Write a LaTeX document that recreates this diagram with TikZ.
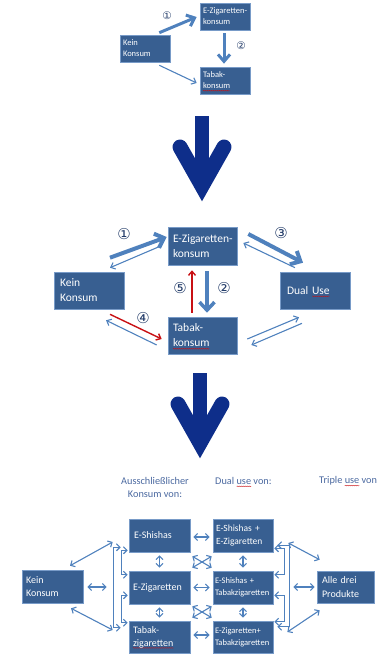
\documentclass[tikz,border=0pt]{standalone}
\usepackage{fontspec}
\setmainfont{Carlito}
\newfontfamily\symf{DejaVu Sans}
\usetikzlibrary{arrows.meta,decorations.pathmorphing}

\definecolor{boxfill}{RGB}{56,95,145}
\definecolor{boxline}{RGB}{120,155,200}
\definecolor{arrowblue}{RGB}{79,129,189}
\definecolor{arrowred}{RGB}{200,16,20}
\definecolor{navyarrow}{RGB}{14,46,138}
\definecolor{numcol}{RGB}{35,60,105}
\definecolor{hdrcol}{RGB}{75,105,160}

\newcommand\fsz[2]{\fontsize{#1}{#2}\selectfont}
% red wavy underline (spell-check mark)
\newcommand\wv[1]{\leavevmode\setbox0=\hbox{#1}\rlap{\tikz[overlay,baseline=0pt]\draw[arrowred, line width=0.35pt, decorate, decoration={snake, amplitude=0.4pt, segment length=2pt}] (0pt,-1.8pt) -- (\the\wd0,-1.8pt);}\box0\relax}

\tikzset{
  box/.style={draw=boxline, line width=0.6pt, fill=boxfill, text=white, align=left, inner ysep=0pt},
  arrthin/.style={draw=arrowblue, line width=1.1pt, -{Straight Barb[length=4pt,width=7pt]}},
  arrthick/.style={draw=arrowblue, line width=4pt, -{Straight Barb[length=8pt,width=15pt]}},
  arrred/.style={draw=arrowred, line width=1.4pt, -{Straight Barb[length=4pt,width=7pt]}},
  arrdbl/.style={draw=arrowblue, line width=1.1pt, {Straight Barb[length=3.5pt,width=7pt]}-{Straight Barb[length=3.5pt,width=7pt]}},
  num/.style={text=numcol, inner sep=0pt},
  hdr/.style={text=hdrcol, inner sep=0pt, font=\fsz{10.3}{13}},
  bigdown/.pic={
    \fill[navyarrow] (-7,0) rectangle (7,62);
    \draw[navyarrow, line width=15pt, line cap=round, line join=miter] (-22,31) -- (0,70) -- (22,31);
  }
}

\begin{document}
\exhyphenpenalty=10000 \hyphenpenalty=10000
\begin{tikzpicture}[x=1pt, y=-1pt]
\useasboundingbox (0,0) rectangle (380,655);

% ---------- first stage ----------
\node[box, minimum width=50, minimum height=27, inner xsep=3, text width=44, font=\fsz{8.5}{11}] (t0) at (145,48.5) {Kein\\Konsum};
\node[box, minimum width=50, minimum height=27, inner xsep=3, text width=44, font=\fsz{8.5}{11}] (t1) at (225,16.5) {E-Zigaretten-\\konsum};
\node[box, minimum width=50, minimum height=27, inner xsep=3, text width=44, font=\fsz{8.5}{11}] (t2) at (225,80.5) {Tabak-\\\wv{konsum}};

\draw[arrthick, line width=3pt, -{Straight Barb[length=7pt,width=12pt]}] ([shift={(-11,-2)}]t0.north east) -- ([shift={(-3,0.5)}]t1.west);
\draw[arrthick, line width=3pt, -{Straight Barb[length=7pt,width=12pt]}] ([shift={(-1,3)}]t1.south) -- ([shift={(-1,-3)}]t2.north);
\draw[arrthin] ([shift={(-11,3)}]t0.south east) -- ([shift={(-3,2.5)}]t2.west);
\node[num, font=\symf\fontsize{10.5}{12}\selectfont] (nt1) at (167,16) {①};
\node[num, font=\symf\fontsize{10.5}{12}\selectfont] (nt2) at (241,46) {②};

\pic at (202,116) {bigdown};

% ---------- second stage ----------
\node[box, minimum width=70, minimum height=37, inner xsep=6, text width=58, font=\fsz{11.5}{15}] (m0) at (89,290.5) {Kein\\Konsum};
\node[box, minimum width=69, minimum height=38, inner xsep=5, text width=59, font=\fsz{11.5}{15}] (m1) at (202.5,246) {E-Zigaretten-\\konsum};
\node[box, minimum width=70, minimum height=37, inner xsep=7, text width=56, font=\fsz{11.5}{15}] (m2) at (315,290.5) {Dual \wv{Use}};
\node[box, minimum width=69, minimum height=37, inner xsep=5, text width=59, font=\fsz{11.5}{15}] (m3) at (202.5,335.5) {Tabak-\\\wv{konsum}};

\draw[arrthick] ([shift={(21,-14)}]m0.north) -- ([shift={(-1,-9)}]m1.west);
\draw[arrthin] ([shift={(-7,0)}]m1.west) -- ([shift={(21,-4)}]m0.north);
\draw[arrthick] ([shift={(11,-12)}]m1.east) -- ([shift={(-12,-9)}]m2.north);
\draw[arrthin] ([shift={(-20,-4)}]m2.north) -- ([shift={(6,-3)}]m1.east);
\draw[arrthick, line width=3.5pt] ([shift={(4.5,6)}]m1.south) -- ([shift={(4.5,-4)}]m3.north);
\draw[arrred] ([shift={(-10.5,-4)}]m3.north) -- ([shift={(-10.5,5)}]m1.south);
\draw[arrred] ([shift={(21,5)}]m0.south) -- ([shift={(-6,3.5)}]m3.west);
\draw[arrthin] ([shift={(-11,9.5)}]m3.west) -- ([shift={(17,11)}]m0.south);
\draw[arrthin] ([shift={(10,3.5)}]m3.east) -- ([shift={(-16,8)}]m2.south);
\draw[arrthin] ([shift={(-13,14)}]m2.south) -- ([shift={(14,9.5)}]m3.east);

\node[num, font=\symf\fontsize{15}{17}\selectfont] (nm1) at (124,234) {①};
\node[num, font=\symf\fontsize{15}{17}\selectfont] (nm3) at (281,233) {③};
\node[num, font=\symf\fontsize{15}{17}\selectfont] (nm2) at (224,288) {②};
\node[num, font=\symf\fontsize{15}{17}\selectfont] (nm5) at (180,288) {⑤};
\node[num, font=\symf\fontsize{15}{17}\selectfont] (nm4) at (143,318) {④};

\pic at (200,373) {bigdown};

% ---------- third stage ----------
\node[hdr, align=center] (h1) at (155,487.5) {Ausschließlicher\\Konsum von:};
\node[hdr, anchor=west] (h2) at (215,481) {Dual \wv{use} von:};
\node[hdr, anchor=west] (h3) at (319,481) {Triple \wv{use} von};

\node[box, minimum width=61, minimum height=33, inner xsep=4, text width=53, font=\fsz{10}{13}] (b0) at (52.5,586.5) {Kein\\Konsum};
\node[box, minimum width=61, minimum height=33, inner xsep=5, text width=51, font=\fsz{10}{13}] (c11) at (159.5,535.5) {E-Shishas};
\node[box, minimum width=61, minimum height=33, inner xsep=4, text width=53, font=\fsz{10}{13}] (c12) at (159.5,587.5) {E-Zigaretten};
\node[box, minimum width=61, minimum height=32, inner xsep=4, text width=53, font=\fsz{10}{13}] (c13) at (159.5,637) {Tabak-\\\wv{zigaretten}};
\node[box, minimum width=60, minimum height=33, inner xsep=3, text width=54, font=\fsz{9.5}{12.5}] (c21) at (243,535.5) {E-Shishas +\\E-Zigaretten};
\node[box, minimum width=60, minimum height=33, inner xsep=2, text width=56, font=\fsz{8.5}{12}] (c22) at (243,587.5) {E-Shishas +\\Tabakzigaretten};
\node[box, minimum width=60, minimum height=32, inner xsep=2, text width=56, font=\fsz{8.5}{12}] (c23) at (243,637) {E-Zigaretten+\\Tabakzigaretten};
\node[box, minimum width=57, minimum height=32, inner xsep=5, text width=47, font=\fsz{10}{14}] (b3) at (345.5,587) {Alle drei\\Produkte};

% left side: no consumption to single products
\draw[arrdbl] ([shift={(17.5,-4)}]b0.north) -- ([shift={(-16,6.5)}]c11.west);
\draw[arrdbl] ([shift={(18.5,5)}]b0.south) -- ([shift={(-16,-7)}]c13.west);
\draw[arrdbl] ([shift={(4,0.5)}]b0.east) -- ([shift={(-22,-0.5)}]c12.west);
\draw[arrdbl] ([shift={(-1,-2)}]c11.south west) -- ++(-6,0) |- ([shift={(-1,4)}]c12.north west);
\draw[arrdbl] ([shift={(-1,-9)}]c12.south west) -- ++(-6,0) |- ([shift={(-1,2)}]c13.north west);
\draw[arrdbl] ([shift={(-8,-5)}]c11.south west) -- ++(-7,0) |- ([shift={(-8,7)}]c13.north west);

% between the two columns
\draw[arrdbl] ([shift={(3,1.5)}]c11.east) -- ([shift={(-3,1.5)}]c21.west);
\draw[arrdbl] ([shift={(3,0)}]c12.east) -- ([shift={(-3,0)}]c22.west);
\draw[arrdbl] ([shift={(3,-2)}]c13.east) -- ([shift={(-3,-2)}]c23.west);
\draw[arrdbl] ([shift={(2,4)}]c11.south east) -- ([shift={(-1,-3)}]c22.north west);
\draw[arrdbl] ([shift={(-1,4)}]c21.south west) -- ([shift={(2,-3)}]c12.north east);
\draw[arrdbl] ([shift={(2,2)}]c12.south east) -- ([shift={(-1,-3)}]c23.north west);
\draw[arrdbl] ([shift={(-1,2)}]c22.south west) -- ([shift={(2,-3)}]c13.north east);

% within the columns
\draw[arrdbl] ([shift={(0,3)}]c11.south) -- ([shift={(0,-3)}]c12.north);
\draw[arrdbl] ([shift={(0,3)}]c12.south) -- ([shift={(0,-3)}]c13.north);
\draw[arrdbl] ([shift={(0,3)}]c21.south) -- ([shift={(0,-3)}]c22.north);
\draw[arrdbl] ([shift={(0,3)}]c22.south) -- ([shift={(0,-3)}]c23.north);

% right side: dual use to all three products
\draw[arrdbl] ([shift={(1,-4)}]c21.south east) -- ++(10,0) |- ([shift={(1,4)}]c22.north east);
\draw[arrdbl] ([shift={(1,-9)}]c22.south east) -- ++(10,0) |- ([shift={(1,1)}]c23.north east);
\draw[arrdbl] ([shift={(4,-7)}]c21.south east) -- ++(12,0) |- ([shift={(4,6)}]c23.north east);
\draw[arrdbl] ([shift={(3,-11)}]b3.north west) -- ([shift={(15,7.5)}]c21.east);
\draw[arrdbl] ([shift={(3,7)}]b3.south west) -- ([shift={(14,-5)}]c23.east);
\draw[arrdbl] ([shift={(20,-0.5)}]c22.east) -- ([shift={(-2,0)}]b3.west);

\end{tikzpicture}
\end{document}
